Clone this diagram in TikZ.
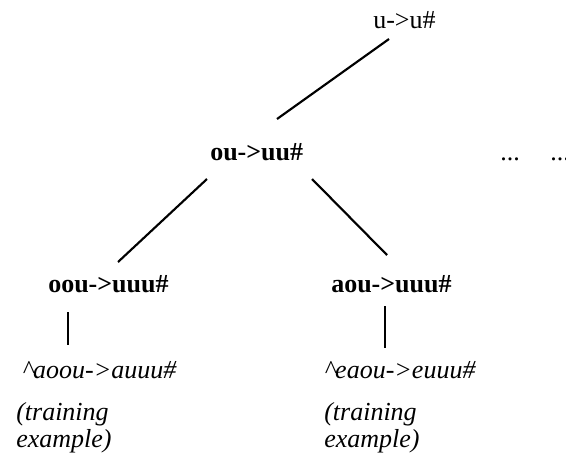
\documentclass[tikz,border=0pt]{standalone}
\usepackage{fontspec}
\setmainfont{Liberation Serif}
\begin{document}
\begin{tikzpicture}[x=0.75pt, y=-0.75pt,
  lbl/.style={inner sep=0pt, anchor=base west, font=\fontsize{19.5}{22}\selectfont},
  rulebf/.style={lbl, font=\fontsize{19.5}{22}\selectfont\bfseries},
  example/.style={lbl, font=\fontsize{19.5}{22}\selectfont\itshape},
  edge/.style={line width=1.6pt, line cap=butt}]
\useasboundingbox (0,0) rectangle (566,465);

% rule tree
\node[lbl]    (root)  at (373,28)  {u->u\#};
\node[rulebf] (mid)   at (210,160) {ou->uu\#};
\node[lbl]    (dotsA) at (500,160) {...};
\node[lbl]    (dotsB) at (550,160) {...};
\node[rulebf] (left)  at (48,292)  {oou->uuu\#};
\node[rulebf] (right) at (331,292) {aou->uuu\#};

% training examples at the leaves
\node[example] (exL)    at (22,378)  {\textasciicircum aoou->auuu\#};
\node[example] (noteL1) at (16,420)  {(training};
\node[example] (noteL2) at (16,447)  {example)};
\node[example] (exR)    at (324,378) {\textasciicircum eaou->euuu\#};
\node[example] (noteR1) at (324,420) {(training};
\node[example] (noteR2) at (324,447) {example)};

% connectors
\draw[edge] ([shift={(16,11)}]root.base west)  -- ([shift={(67,-41)}]mid.base west);
\draw[edge] ([shift={(-3,19)}]mid.base west)   -- ([shift={(70,-30)}]left.base west);
\draw[edge] ([shift={(102,19)}]mid.base west)  -- ([shift={(56,-37)}]right.base west);
\draw[edge] ([shift={(20,20)}]left.base west)  -- ([shift={(46,-33)}]exL.base west);
\draw[edge] ([shift={(54,14)}]right.base west) -- ([shift={(61,-30)}]exR.base west);
\end{tikzpicture}
\end{document}
